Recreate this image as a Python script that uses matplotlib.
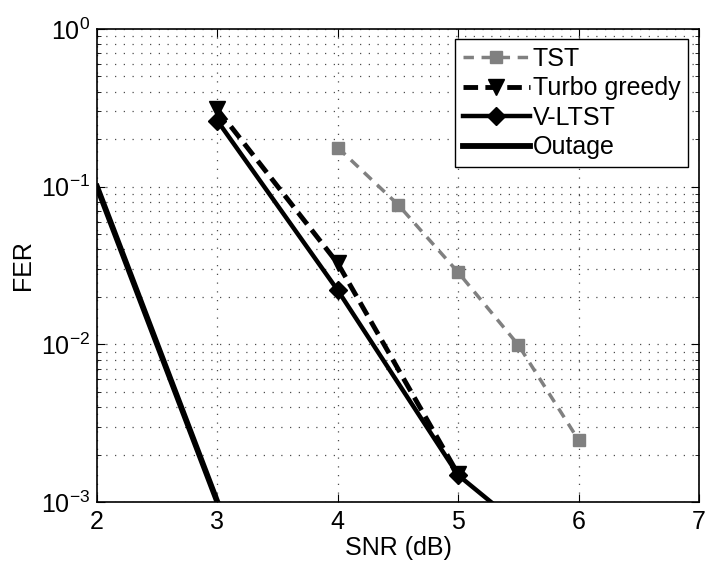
import numpy as np
import matplotlib
matplotlib.use("Agg")
import matplotlib.pyplot as plt

# values
snr_tst = [4.0, 4.5, 5.0, 5.5, 6.0]
fer_tst = [0.177, 0.077, 0.0286, 0.0099, 0.00247]

snr_turbo = [3.0, 4.0, 5.0]
fer_turbo = [0.31, 0.0326, 0.0015]

snr_vltst = [3.0, 4.0, 5.0, 5.5]
fer_vltst = [0.262, 0.022, 0.00148, 0.00072]

snr_outage = [2.0, 2.5, 3.0]
fer_outage = [0.1, 0.01, 0.001]

xticks = [2, 3, 4, 5, 6, 7]

plt.rcParams["font.family"] = ["Liberation Sans", "DejaVu Sans"]
plt.rcParams["mathtext.fontset"] = "custom"
plt.rcParams["mathtext.rm"] = "Liberation Sans"

fig = plt.figure(figsize=(7.1, 5.67), dpi=100)
ax = fig.add_axes([0.1366, 0.1146, 0.8479, 0.8342])

ax.plot(snr_tst, fer_tst, color="0.5", lw=2.5, dashes=(3, 2.2),
        marker="s", ms=8.5, mfc="0.5", mec="0.5", label="TST")
ax.plot(snr_turbo, fer_turbo, color="k", lw=3.5, dashes=(3, 1.5),
        marker="v", ms=11, mfc="k", mec="k", label="Turbo greedy")
ax.plot(snr_vltst, fer_vltst, color="k", lw=3.2,
        marker="D", ms=9, mfc="k", mec="k", label="V-LTST")
ax.plot(snr_outage, fer_outage, color="k", lw=4.2, label="Outage")

ax.set_yscale("log")
ax.set_xlim(2, 7)
ax.set_ylim(1e-3, 1)
ax.set_xticks(xticks)
ax.set_xticklabels([str(t) for t in xticks])

grid_style = dict(color="0.3", linestyle=(0, (1, 6)), linewidth=0.9)
ax.grid(True, which="major", axis="both", **grid_style)
ax.grid(True, which="minor", axis="y", **grid_style)

ax.tick_params(which="both", direction="in", top=True, right=True,
               labelsize=18)
ax.tick_params(axis="x", pad=6)
ax.tick_params(axis="y", pad=5)
ax.tick_params(which="major", length=6)
ax.tick_params(which="minor", length=3)
for s in ax.spines.values():
    s.set_linewidth(1.2)

ax.set_xlabel("SNR (dB)", fontsize=18, labelpad=1)
ax.set_ylabel("FER", fontsize=18, labelpad=4)

leg = ax.legend(loc="upper right", bbox_to_anchor=(0.982, 0.979),
                borderaxespad=0, fontsize=18, handlelength=2.7,
                handletextpad=0.1, labelspacing=0.22, borderpad=0.32,
                fancybox=False, framealpha=1, edgecolor="k")
leg.get_frame().set_linewidth(1.0)

fig.savefig("out.png", dpi=100)
